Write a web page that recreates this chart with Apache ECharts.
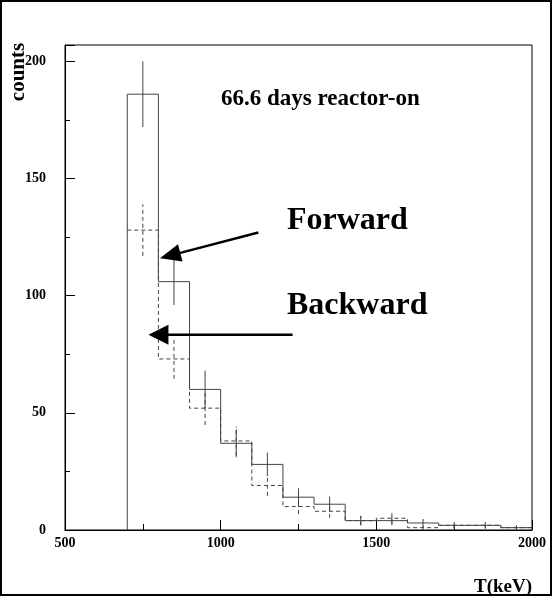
<!DOCTYPE html>
<html>
<head>
<meta charset="utf-8">
<script src="https://cdn.jsdelivr.net/npm/echarts@6/dist/echarts.min.js"></script>
<style>
  html, body { margin: 0; padding: 0; background: #fff; }
  #chart { width: 553px; height: 600px; }
</style>
</head>
<body>
<div id="chart"></div>
<script>
// bin edges in keV (13 bins of 100 keV)
const binEdges = [700, 800, 900, 1000, 1100, 1200, 1300, 1400, 1500, 1600, 1700, 1800, 1900, 2000];
const forwardCounts = [186, 106, 60, 37, 28, 14, 11, 4, 4, 3, 2, 2, 1];
const forwardErrors = [14, 10, 8, 6, 5, 3.8, 3.3, 2, 2, 1.7, 1.4, 1.4, 1];
const backwardCounts = [128, 73, 52, 38, 19, 10, 8, 4, 5, 1, 2, 2, 1];
const backwardErrors = [11, 8.5, 7.2, 6.2, 4.4, 3.2, 2.8, 2, 2.2, 1, 1.4, 1.4, 1];

const serif = 'Liberation Serif';
const lineColor = '#444';

// outline of a histogram; fromZero adds the rising edge at the first bin
function stepData(counts, fromZero) {
  const pts = fromZero ? [[binEdges[0], 0]] : [];
  counts.forEach((c, i) => pts.push([binEdges[i], c]));
  pts.push([binEdges[binEdges.length - 1], counts[counts.length - 1]]);
  return pts;
}

function errorData(counts, errors) {
  return counts.map((c, i) => [
    (binEdges[i] + binEdges[i + 1]) / 2,
    Math.max(0, c - errors[i]),
    c + errors[i]
  ]);
}

function errorBar(dash) {
  return function (params, api) {
    const p1 = api.coord([api.value(0), api.value(1)]);
    const p2 = api.coord([api.value(0), api.value(2)]);
    return {
      type: 'line',
      shape: { x1: p1[0], y1: p1[1], x2: p2[0], y2: p2[1] },
      style: { stroke: lineColor, lineWidth: 1, lineDash: dash }
    };
  };
}

const chart = echarts.init(document.getElementById('chart'));

chart.setOption({
  animation: false,
  grid: {
    left: 65,
    right: 21,
    top: 45,
    bottom: 70,
    show: true,
    borderColor: '#000',
    borderWidth: 1
  },
  xAxis: {
    type: 'value',
    min: 500,
    max: 2000,
    interval: 500,
    axisLine: { lineStyle: { color: '#000', width: 1 } },
    axisTick: { inside: true, length: 10, lineStyle: { color: '#000' } },
    minorTick: { show: true, splitNumber: 2, length: 6, lineStyle: { color: '#000' } },
    splitLine: { show: false },
    axisLabel: {
      color: '#000',
      fontFamily: serif,
      fontWeight: 'bold',
      fontSize: 14,
      margin: 6,
      formatter: (v) => String(v)
    }
  },
  yAxis: {
    type: 'value',
    min: 0,
    max: 207,
    interval: 50,
    axisLine: { show: true, lineStyle: { color: '#000', width: 1 } },
    axisTick: { inside: true, length: 10, lineStyle: { color: '#000' } },
    minorTick: { show: true, splitNumber: 2, length: 5, lineStyle: { color: '#000' } },
    splitLine: { show: false },
    axisLabel: {
      color: '#000',
      fontFamily: serif,
      fontWeight: 'bold',
      fontSize: 14,
      margin: 19,
      formatter: (v) => (v % 50 === 0 ? String(v) : '')
    }
  },
  series: [
    {
      name: 'Backward',
      type: 'line',
      step: 'end',
      symbol: 'none',
      data: stepData(backwardCounts, false),
      lineStyle: { color: lineColor, width: 1, type: [4, 3] },
      z: 2
    },
    {
      name: 'Backward errors',
      type: 'custom',
      renderItem: errorBar([4, 3]),
      data: errorData(backwardCounts, backwardErrors),
      z: 2
    },
    {
      name: 'Forward',
      type: 'line',
      step: 'end',
      symbol: 'none',
      data: stepData(forwardCounts, true),
      lineStyle: { color: lineColor, width: 1 },
      z: 3
    },
    {
      name: 'Forward errors',
      type: 'custom',
      renderItem: errorBar(null),
      data: errorData(forwardCounts, forwardErrors),
      z: 3
    }
  ]
});

// arrow annotation from tail to tip (data coords)
function arrow(tail, tip, headLen, headHalf) {
  const a = chart.convertToPixel({ gridIndex: 0 }, tail);
  const b = chart.convertToPixel({ gridIndex: 0 }, tip);
  const dx = b[0] - a[0], dy = b[1] - a[1];
  const len = Math.sqrt(dx * dx + dy * dy);
  const ux = dx / len, uy = dy / len;
  const bx = b[0] - ux * headLen, by = b[1] - uy * headLen;
  return [
    {
      type: 'line',
      shape: { x1: a[0], y1: a[1], x2: bx + ux * 2, y2: by + uy * 2 },
      style: { stroke: '#000', lineWidth: 2.5 },
      z: 10
    },
    {
      type: 'polygon',
      shape: {
        points: [
          [b[0], b[1]],
          [bx - uy * headHalf, by + ux * headHalf],
          [bx + uy * headHalf, by - ux * headHalf]
        ]
      },
      style: { fill: '#000' },
      z: 10
    }
  ];
}

function label(text, x, y, size, extra) {
  return Object.assign({
    type: 'text',
    x: x,
    y: y,
    style: {
      text: text,
      fill: '#000',
      font: 'bold ' + size + 'px "' + serif + '"',
      verticalAlign: 'middle'
    },
    z: 10
  }, extra || {});
}

chart.setOption({
  graphic: [
    {
      type: 'rect',
      shape: { x: 1, y: 1, width: 550, height: 594 },
      style: { fill: null, stroke: '#000', lineWidth: 2 },
      silent: true
    },
    label('66.6 days reactor-on', 221, 99, 23),
    label('Forward', 287, 221, 32),
    label('Backward', 287, 306, 32),
    label('T(keV)', 474, 587, 19),
    {
      type: 'text',
      x: 19,
      y: 72,
      rotation: Math.PI / 2,
      style: {
        text: 'counts',
        fill: '#000',
        font: 'bold 21px "' + serif + '"',
        align: 'center',
        verticalAlign: 'middle'
      },
      z: 10
    }
  ].concat(
    arrow([1121, 127], [805, 116], 21, 9),
    arrow([1231, 83.3], [768, 83.3], 20, 10)
  )
});

window.addEventListener('resize', () => chart.resize());
</script>
</body>
</html>
